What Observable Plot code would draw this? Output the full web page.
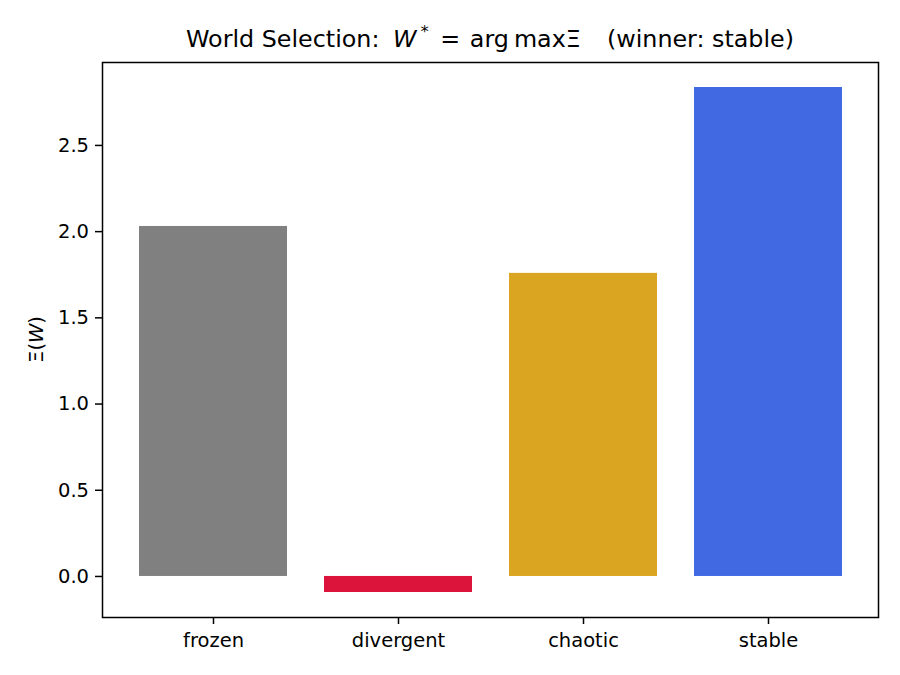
<!DOCTYPE html>
<html><head><meta charset="utf-8">
<script src="https://cdn.jsdelivr.net/npm/d3@7"></script>
<script src="https://cdn.jsdelivr.net/npm/@observablehq/plot@0.6"></script>
<style>
body{margin:0;background:#fff;}
#chart{position:relative;width:900px;height:675px;font-family:"DejaVu Sans";}
</style>
</head><body><div id="chart"></div>
<script>
const worlds = ["frozen", "divergent", "chaotic", "stable"];
const xiValues = [2.030, -0.093, 1.758, 2.836];
const barColors = ["#808080", "#DC143C", "#DAA520", "#4169E1"];
const yTicks = [0, 0.5, 1.0, 1.5, 2.0, 2.5];
const winner = "stable";

const data = worlds.map((w, i) => ({world: w, xi: xiValues[i]}));

const plot = Plot.plot({
  width: 900, height: 675,
  marginLeft: 102, marginRight: 22, marginTop: 62, marginBottom: 58,
  style: {fontFamily: "DejaVu Sans", fontSize: "19.5px", background: "white", color: "black"},
  x: {domain: worlds, paddingInner: 0.2, paddingOuter: 0.19, label: null},
  y: {domain: [-0.238, 2.981], label: null},
  color: {domain: worlds, range: barColors},
  marks: [
    Plot.barY(data, {x: "world", y: "xi", fill: "world"}),
    Plot.frame({stroke: "black", strokeWidth: 1.5}),
    Plot.axisY({ticks: yTicks, tickFormat: d3.format(".1f"), tickSize: 7, tickPadding: 6.5, strokeWidth: 1.5, label: null, fontSize: 19.5}),
    Plot.axisX({tickSize: 7, tickPadding: 9, strokeWidth: 1.5, label: null, fontSize: 19.5})
  ]
});

const svg = d3.select(plot);

const title = svg.append("text")
  .attr("x", 490).attr("y", 47)
  .attr("text-anchor", "middle")
  .style("font-size", "23.8px").style("font-family", "DejaVu Sans")
  .style("white-space", "pre").attr("fill", "black");
title.append("tspan").text("World Selection: ");
title.append("tspan").attr("dx", 6).style("font-style", "italic").text("W");
title.append("tspan").attr("dx", 4).attr("dy", -10).style("font-size", "16.5px").text("*");
title.append("tspan").attr("dx", 4).attr("dy", 10).text(" =");
title.append("tspan").attr("dx", 2).text(" arg");
title.append("tspan").attr("dx", 5).text("max\u039E");
title.append("tspan").attr("dx", 11).text("  (winner: " + winner + ")");

const ylab = svg.append("text")
  .attr("transform", "translate(36,339.5) rotate(-90)")
  .attr("text-anchor", "middle")
  .attr("dominant-baseline", "central")
  .style("font-size", "19.5px").style("font-family", "DejaVu Sans")
  .attr("fill", "black");
ylab.append("tspan").text("\u039E(");
ylab.append("tspan").style("font-style", "italic").text("W");
ylab.append("tspan").text(")");

document.getElementById("chart").appendChild(plot);
</script>
</body></html>
